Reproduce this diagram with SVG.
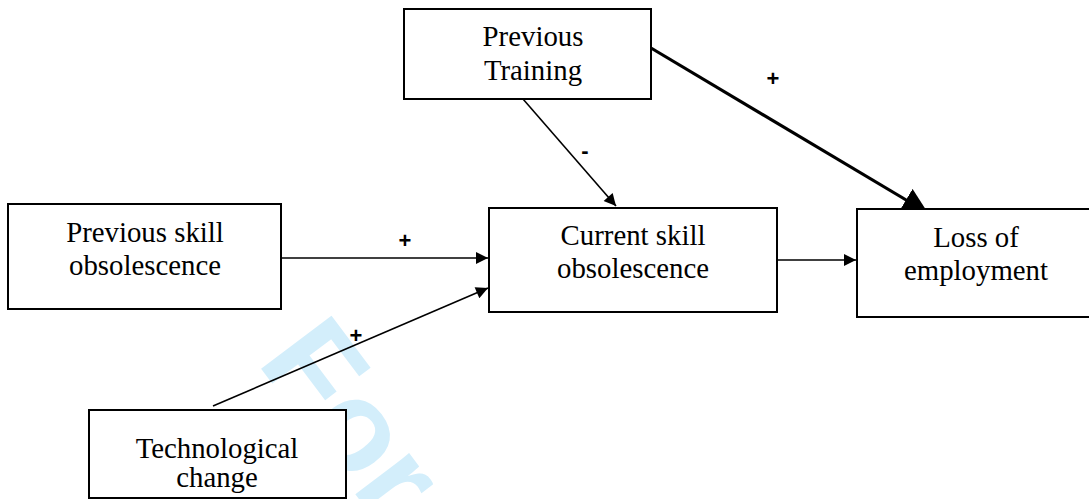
<svg xmlns="http://www.w3.org/2000/svg" width="1089" height="499" viewBox="0 0 1089 499">
<style>
.box{fill:#fff;stroke:#000;stroke-width:2}
.t{font-family:"Liberation Serif","Times New Roman",serif;font-size:28.8px;fill:#000;text-anchor:middle}
.lbl{font-family:"Liberation Sans",Arial,sans-serif;font-size:22px;font-weight:bold;fill:#000;text-anchor:middle}
.c{stroke:#000;stroke-width:1.6;fill:none}
.wm{font-family:"Liberation Sans",Arial,sans-serif;font-size:128px;font-weight:bold;fill:#d3eefb}
</style>
<defs>
<marker id="ahb" viewBox="0 0 10 10" refX="10" refY="5" markerWidth="8" markerHeight="8" markerUnits="strokeWidth" orient="auto"><path d="M0,0 L10,5 L0,10 z" fill="#000"/></marker>
<marker id="ahn" viewBox="0 0 10 10" refX="10" refY="5" markerWidth="16" markerHeight="12" markerUnits="userSpaceOnUse" orient="auto"><path d="M0,0 L10,5 L0,10 z" fill="#000"/></marker>
</defs>
<text class="wm" x="256" y="362" transform="rotate(53 256 362)">For</text>
<g id="connectors">
<line class="c" x1="281" y1="258" x2="488" y2="258" marker-end="url(#ahn)"/>
<line class="c" x1="213" y1="406" x2="488" y2="288" marker-end="url(#ahn)"/>
<line class="c" x1="523" y1="99" x2="616" y2="206" marker-end="url(#ahn)"/>
<line class="c" x1="777" y1="260" x2="856" y2="260" marker-end="url(#ahn)"/>
<line x1="651" y1="48" x2="928" y2="213" stroke="#000" stroke-width="3.2" marker-end="url(#ahb)"/>
<text class="lbl" x="773" y="86">+</text>
<text class="lbl" x="585" y="158">-</text>
<text class="lbl" x="405" y="248">+</text>
<text class="lbl" x="356" y="343">+</text>
</g>
<g id="node-previous-training">
<rect class="box" x="404" y="9" width="247" height="90"/>
<text class="t" x="533" y="46">Previous</text>
<text class="t" x="533" y="80">Training</text>
</g>
<g id="node-previous-skill">
<rect class="box" x="8" y="204" width="273" height="105"/>
<text class="t" x="145" y="242">Previous skill</text>
<text class="t" x="145" y="275">obsolescence</text>
</g>
<g id="node-current-skill">
<rect class="box" x="489" y="208" width="288" height="104"/>
<text class="t" x="633" y="245">Current skill</text>
<text class="t" x="633" y="278">obsolescence</text>
</g>
<g id="node-loss">
<rect class="box" x="857" y="209" width="240" height="108"/>
<text class="t" x="976" y="247">Loss of</text>
<text class="t" x="976" y="280">employment</text>
</g>
<g id="node-tech">
<rect class="box" x="89" y="410" width="257" height="88"/>
<text class="t" x="217" y="458">Technological</text>
<text class="t" x="217" y="487">change</text>
</g>
</svg>
